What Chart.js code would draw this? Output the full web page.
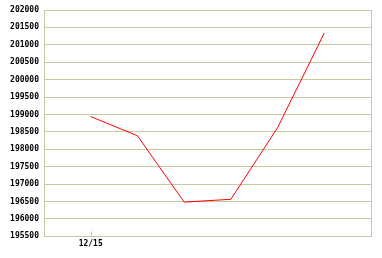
<!DOCTYPE html>
<html>
<head>
<meta charset="utf-8">
<script src="https://cdn.jsdelivr.net/npm/chart.js@4/dist/chart.umd.min.js"></script>
<style>
  html, body { margin: 0; padding: 0; background: #fff; }
  #wrap { width: 382px; height: 258px; }
</style>
</head>
<body>
<div id="wrap"><canvas id="myChart"></canvas></div>
<script>
// values
const positions = [1, 2, 3, 4, 5, 6]
const values = [198940, 198390, 196485, 196565, 198620, 201340]
const tickLabels = ['12/15']
const yMin = 195500
const yMax = 202000
const xMax = 7

const gridColor = '#c9c99e'
const labelFont = { family: 'DejaVu Sans Mono', size: 8, weight: 'bold' }

// frame round the plot + the little inside tick under 12/15
const frame = {
  id: 'frame',
  afterDraw(chart) {
    const c = chart.ctx
    const a = chart.chartArea
    const xs = chart.scales.x
    c.save()
    c.strokeStyle = gridColor
    c.lineWidth = 1
    c.strokeRect(Math.round(a.left) + 0.5, Math.round(a.top) + 0.5,
      Math.round(a.right - a.left), Math.round(a.bottom - a.top))
    positions.slice(0, tickLabels.length).forEach(p => {
      const x = Math.round(xs.getPixelForValue(p)) + 0.5
      c.beginPath()
      c.moveTo(x, a.bottom - 5)
      c.lineTo(x, a.bottom)
      c.stroke()
    })
    c.restore()
  }
}

new Chart(document.getElementById('myChart'), {
  type: 'line',
  data: {
    datasets: [{
      data: positions.map((p, i) => ({ x: p, y: values[i] })),
      borderColor: '#ff0000',
      borderWidth: 1,
      pointRadius: 0,
      tension: 0,
      fill: false
    }]
  },
  options: {
    responsive: true,
    maintainAspectRatio: false,
    animation: false,
    layout: { padding: { left: 0, top: 10, right: 11, bottom: 6 } },
    plugins: { legend: { display: false }, tooltip: { enabled: false } },
    scales: {
      x: {
        type: 'linear',
        min: 0,
        max: xMax,
        afterBuildTicks: s => { s.ticks = tickLabels.map((t, i) => ({ value: positions[i] })) },
        ticks: {
          callback: (v, i) => tickLabels[i],
          font: labelFont,
          color: '#000',
          padding: 3,
          maxRotation: 0
        },
        grid: { drawOnChartArea: false, drawTicks: false },
        border: { color: gridColor }
      },
      y: {
        min: yMin,
        max: yMax,
        afterFit: s => { s.width = 44 },
        ticks: {
          stepSize: 500,
          callback: v => String(v),
          font: labelFont,
          color: '#000',
          padding: 5
        },
        grid: { color: gridColor, drawTicks: false },
        border: { color: gridColor }
      }
    }
  },
  plugins: [frame]
})
</script>
</body>
</html>
